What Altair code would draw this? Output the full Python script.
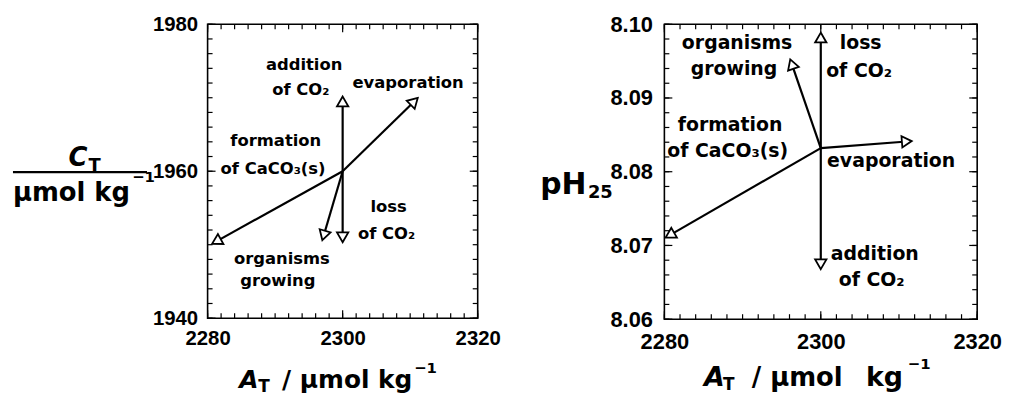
import math
import altair as alt
import pandas as pd

# ---------------- data ----------------
AT_DOMAIN = [2280, 2320]
CT_DOMAIN = [1940, 1980]
PH_DOMAIN = [8.06, 8.10]
AT_LABELS = [2280, 2300, 2320]
CT_LABELS = [1940, 1960, 1980]
PH_LABELS = [8.06, 8.07, 8.08, 8.09, 8.10]
AT_MINOR = list(range(2280, 2321, 2))
CT_MINOR = list(range(1940, 1981, 2))
PH_MINOR = [round(8.06 + 0.002 * i, 3) for i in range(21)]

process = ["evaporation", "addition of CO2", "loss of CO2", "organisms growing", "formation of CaCO3(s)"]

# left panel: C_T against A_T
left_start = [2300.0, 1960.0]
left_end_AT = [2310.6, 2300.0, 2300.0, 2297.2, 2281.3]
left_end_CT = [1969.5, 1969.5, 1951.0, 1951.25, 1950.45]
left_label_text = ["addition", "of CO₂", "evaporation", "formation", "of CaCO₃(s)",
                   "loss", "of CO₂", "organisms", "growing"]
left_label_AT = [2294.3, 2293.8, 2309.7, 2290.1, 2289.7, 2306.8, 2306.5, 2291.0, 2290.4]
left_label_CT = [1974.5, 1971.1, 1972.0, 1964.05, 1960.3, 1955.1, 1951.5, 1948.1, 1945.0]

# right panel: pH25 against A_T
right_start = [2300.0, 8.0832]
right_end_AT = [2311.0, 2300.0, 2300.0, 2296.3, 2280.7]
right_end_pH = [8.0841, 8.06745, 8.0982, 8.0946, 8.0714]
right_label_text = ["organisms", "growing", "loss", "of CO₂", "formation", "of CaCO₃(s)",
                    "evaporation", "addition", "of CO₂"]
right_label_AT = [2289.3, 2288.9, 2305.1, 2304.9, 2288.4, 2288.1, 2309.0, 2306.9, 2306.5]
right_label_pH = [8.0974, 8.0939, 8.0974, 8.0937, 8.0863, 8.0828, 8.0815, 8.0688, 8.0653]

TEXT_FONT = "DejaVu Sans"
TICK_FONT = "Liberation Sans"


def piece(s, x, y, size, italic=False):
    return alt.Chart(pd.DataFrame({"t": [s]})).mark_text(
        font=TEXT_FONT, fontSize=size, fontWeight="bold",
        fontStyle="italic" if italic else "normal",
        align="left", baseline="alphabetic", color="black"
    ).encode(text="t:N", x=alt.value(x), y=alt.value(y))


def panel(W, H, ydom, yminor, ylabels, yfmt, start, ex, ey, lt, lx, ly,
          ann_size, tick_size, xpad, ypad, title_layers):
    xs = alt.Scale(domain=AT_DOMAIN, nice=False, zero=False)
    ys = alt.Scale(domain=ydom, nice=False, zero=False)
    sx = W / (AT_DOMAIN[1] - AT_DOMAIN[0])
    sy = H / (ydom[1] - ydom[0])
    arrows = pd.DataFrame({"process": process, "x0": start[0], "y0": start[1], "x1": ex, "y1": ey})
    arrows["angle"] = [math.degrees(math.atan2((a - start[0]) * sx, (b - start[1]) * sy)) % 360
                       for a, b in zip(ex, ey)]
    xaxis = alt.Axis(values=AT_LABELS, title=None, ticks=False, domain=False, grid=False,
                     labelFont=TICK_FONT, labelFontWeight="bold", labelFontSize=tick_size,
                     labelPadding=xpad, labelFlush=False, labelOverlap=False, labelColor="black",
                     format="d")
    yaxis = alt.Axis(values=ylabels, title=None, ticks=False, domain=False, grid=False,
                     labelFont=TICK_FONT, labelFontWeight="bold", labelFontSize=tick_size,
                     labelPadding=ypad, labelFlush=False, labelOverlap=False, labelColor="black",
                     format=yfmt)
    X = lambda f: alt.X(f, scale=xs, axis=xaxis)
    Y = lambda f: alt.Y(f, scale=ys, axis=yaxis)

    lines = alt.Chart(arrows).mark_rule(color="black", strokeWidth=2.2).encode(
        x=X("x0:Q"), x2="x1:Q", y=Y("y0:Q"), y2="y1:Q")
    heads = alt.Chart(arrows).mark_point(
        shape="triangle-up", filled=True, fill="white", stroke="black",
        strokeWidth=1.8, size=130, opacity=1
    ).encode(x=X("x1:Q"), y=Y("y1:Q"), angle=alt.Angle("angle:Q", scale=None))
    labels = alt.Chart(pd.DataFrame({"t": lt, "x": lx, "y": ly})).mark_text(
        font=TEXT_FONT, fontWeight="bold", fontSize=ann_size, align="center",
        baseline="middle", color="black"
    ).encode(x=X("x:Q"), y=Y("y:Q"), text="t:N")

    tick_layers = []
    for vals, L in ((AT_MINOR, 5), (AT_LABELS, 8)):
        d = pd.DataFrame({"v": vals})
        tick_layers.append(alt.Chart(d).mark_rule(color="black", strokeWidth=1.2).encode(
            x=X("v:Q"), y=alt.value(H), y2=alt.value(H - L)))
        tick_layers.append(alt.Chart(d).mark_rule(color="black", strokeWidth=1.2).encode(
            x=X("v:Q"), y=alt.value(0), y2=alt.value(L)))
    for vals, L in ((yminor, 5), (ylabels, 8)):
        d = pd.DataFrame({"v": vals})
        tick_layers.append(alt.Chart(d).mark_rule(color="black", strokeWidth=1.2).encode(
            y=Y("v:Q"), x=alt.value(0), x2=alt.value(L)))
        tick_layers.append(alt.Chart(d).mark_rule(color="black", strokeWidth=1.2).encode(
            y=Y("v:Q"), x=alt.value(W), x2=alt.value(W - L)))

    return alt.layer(lines, *tick_layers, heads, labels,
                     *title_layers).properties(width=W, height=H)


LW, LH = 272, 296
left_titles = [
    piece("A", 32, 366, 25, italic=True),
    piece("T", 51, 370, 17),
    piece("/ μmol kg", 75, 366, 25),
    piece("−1", 208, 351, 15),
    piece("C", -140, 143, 26, italic=True),
    piece("T", -120, 148, 18),
    alt.Chart(pd.DataFrame({"t": [0]})).mark_rule(color="black", strokeWidth=2.2).encode(
        x=alt.value(-196), x2=alt.value(-61), y=alt.value(149)),
    piece("μmol kg", -196, 178, 26),
    piece("−1", -76, 159, 15),
]
left = panel(LW, LH, CT_DOMAIN, CT_MINOR, CT_LABELS, "d", left_start, left_end_AT, left_end_CT,
             left_label_text, left_label_AT, left_label_CT, 16.5, 20.5, 11, 10, left_titles)

RW, RH = 315, 297
right_titles = [
    piece("A", 40, 364, 27, italic=True),
    piece("T", 59, 368, 17),
    piece("/ μmol", 88, 364, 26),
    piece("kg", 203, 364, 27),
    piece("−1", 245, 347, 15),
    piece("pH", -125, 171, 30),
    piece("25", -77, 175, 18),
]
right = panel(RW, RH, PH_DOMAIN, PH_MINOR, PH_LABELS, ".2f", right_start, right_end_AT, right_end_pH,
              right_label_text, right_label_AT, right_label_pH, 19, 22, 13, 12, right_titles)

chart = alt.hconcat(left, right, spacing=38).configure_view(
    stroke="black", strokeWidth=1.6
).properties(
    padding={"left": 3, "top": 3, "right": 0, "bottom": 0}, background="white"
)

chart.save("out.html", embed_options={"renderer": "svg", "actions": False})
